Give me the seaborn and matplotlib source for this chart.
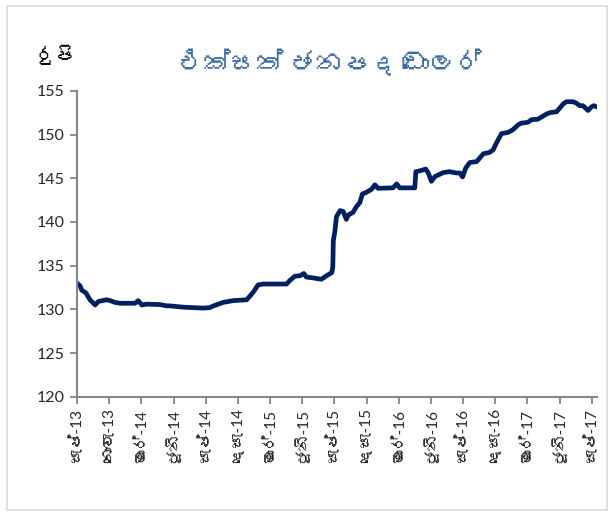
import matplotlib
matplotlib.use("Agg")
import matplotlib.pyplot as plt
import seaborn as sns
from matplotlib.patches import Rectangle

# Data (x = trading-day number, y = rupees per USD)
day = [0, 6, 9, 17, 25, 35, 41, 57, 64, 73, 83, 112, 118, 125, 134, 160, 173, 179,
       205, 243, 256, 263, 282, 301, 327, 333, 340, 349, 359, 404, 410, 420, 430, 437,
       442, 455, 465, 471, 481, 491, 493, 494, 497, 500, 507, 513, 519, 523, 532, 539,
       545, 550, 558, 568, 574, 580, 609, 616, 622, 651, 653, 661, 672, 677, 683, 690,
       706, 718, 731, 738, 743, 749, 757, 770, 776, 783, 795, 802, 808, 818, 831, 840,
       850, 856, 869, 876, 888, 895, 905, 911, 924, 930, 937, 943, 956, 962, 969, 975,
       985, 991, 996, 1002]
rate = [133.0, 132.7, 132.2, 131.9, 131.1, 130.5, 130.9, 131.1, 131.0, 130.8, 130.7,
        130.7, 131.0, 130.5, 130.6, 130.55, 130.4, 130.4, 130.25, 130.15, 130.2, 130.4,
        130.8, 131.0, 131.1, 131.5, 132.0, 132.8, 132.9, 132.9, 133.3, 133.8, 133.85,
        134.1, 133.7, 133.6, 133.5, 133.45, 133.85, 134.2, 134.9, 137.9, 138.9, 140.6,
        141.3, 141.2, 140.3, 140.8, 141.1, 141.8, 142.2, 143.2, 143.4, 143.75, 144.25,
        143.85, 143.9, 144.35, 143.9, 143.9, 145.75, 145.85, 146.05, 145.6, 144.65,
        145.2, 145.65, 145.75, 145.6, 145.6, 145.15, 146.15, 146.8, 146.9, 147.3, 147.8,
        147.95, 148.25, 149.0, 150.1, 150.25, 150.55, 151.1, 151.3, 151.4, 151.7, 151.75,
        152.0, 152.35, 152.5, 152.6, 153.0, 153.5, 153.75, 153.75, 153.6, 153.3, 153.3,
        152.75, 153.15, 153.3, 153.15]

tick_labels = ["සැප්-13", "නොවැ-13", "මාර්-14", "ජූනි-14", "සැප්-14", "දෙසැ-14",
               "මාර්-15", "ජූනි-15", "සැප්-15", "දෙසැ-15", "මාර්-16", "ජූනි-16",
               "සැප්-16", "දෙසැ-16", "මාර්-17", "ජූනි-17", "සැප්-17"]
tick_step = 62
y_ticks = [120, 125, 130, 135, 140, 145, 150, 155]

title = "එක්සත් ජනපද ඩොලර්"
unit = "රුපි"

sns.set_style("white")
# Lato for digits, Unifont is the only installed font with Sinhala glyphs
plt.rcParams["font.family"] = ["Lato", "Unifont", "DejaVu Sans"]

fig = plt.figure(figsize=(6.11, 5.16), dpi=100)
ax = fig.add_axes([0.126, 0.231, 0.851, 0.593])

sns.lineplot(x=day, y=rate, ax=ax, color="#002060", linewidth=3.4)

ax.set_xlim(0, 1002)
ax.set_ylim(120, 155)
ax.set_yticks(y_ticks)
ax.set_xticks([i * tick_step for i in range(len(tick_labels))])
ax.set_xticklabels(tick_labels, rotation=90, fontsize=11)
ax.tick_params(axis="y", labelsize=11.5)
ax.tick_params(direction="out", length=5, width=1.3, color="#868686", pad=4,
               left=True, bottom=True)
ax.set_xlabel("")
ax.set_ylabel("")
for s in ["top", "right"]:
    ax.spines[s].set_visible(False)
for s in ["left", "bottom"]:
    ax.spines[s].set_color("#868686")
    ax.spines[s].set_linewidth(1.5)

fig.text(0.54, 0.877, title, ha="center", va="center", fontsize=19,
         color="#3A6BA5")
fig.text(0.09, 0.893, unit, ha="center", va="center", fontsize=14, color="black")

# light chart-area border
fig.patches.append(Rectangle((0.012, 0.012), 0.982, 0.976, transform=fig.transFigure,
                             fill=False, edgecolor="#d9d9d9", linewidth=1.2))

fig.savefig("out.png", dpi=100)
